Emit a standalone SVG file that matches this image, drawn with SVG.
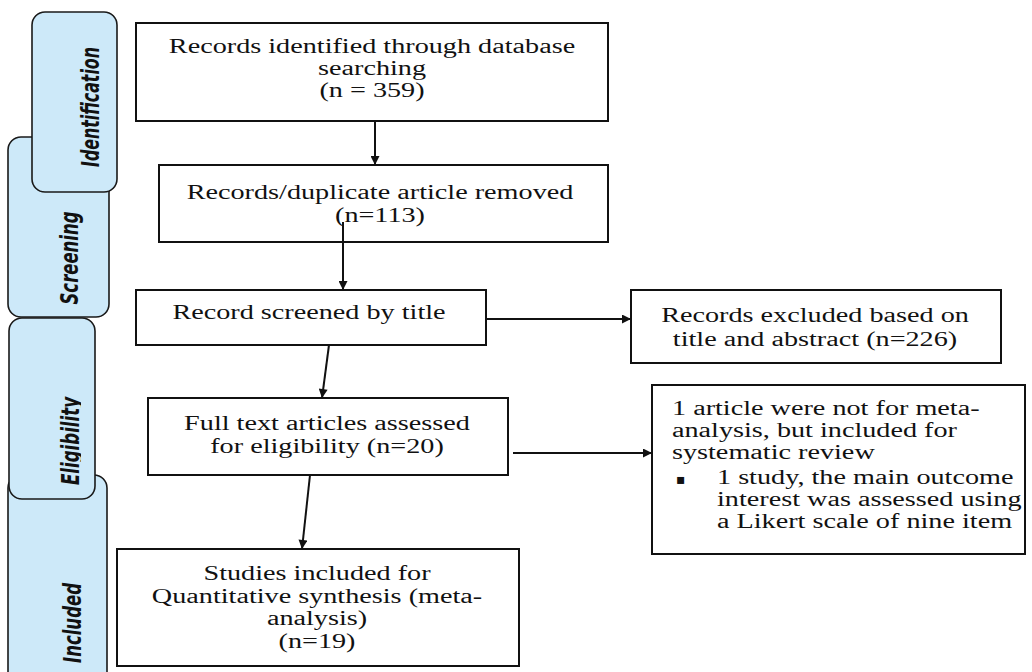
<svg xmlns="http://www.w3.org/2000/svg" width="1032" height="672" viewBox="0 0 1032 672">
<style>
.bg{fill:#ffffff}
.box{fill:#ffffff;stroke:#111111;stroke-width:2}
.tab{fill:#cde9f9;stroke:#1a1a1a;stroke-width:1.6}
.t{font-family:"Liberation Serif","Times New Roman",serif;font-size:20px;fill:#111111;text-anchor:middle}
.tl{font-family:"Liberation Serif","Times New Roman",serif;font-size:20px;fill:#111111;text-anchor:start}
.side{font-family:"Liberation Sans Narrow","DejaVu Sans Condensed","DejaVu Sans",sans-serif;font-size:25px;font-weight:bold;font-style:italic;fill:#111111;text-anchor:middle}
.c{stroke:#111111;stroke-width:2;fill:none}
</style>
<defs>
<marker id="ah" viewBox="0 0 10 10" refX="10" refY="5" markerWidth="10" markerHeight="9" markerUnits="userSpaceOnUse" orient="auto">
<path d="M0,0 L10,5 L0,10 z" fill="#111111"/>
</marker>
<clipPath id="eclip"><rect x="0" y="380" width="81" height="120"/></clipPath>
</defs>
<rect class="bg" x="0" y="0" width="1032" height="672"/>

<g id="tab-screening">
<rect class="tab" x="8" y="137" width="101" height="180" rx="13"/>
<text class="side" transform="translate(78,258) rotate(-90)" x="0" y="0" textLength="93" lengthAdjust="spacingAndGlyphs">Screening</text>
</g>
<g id="tab-identification">
<rect class="tab" x="32" y="12" width="85" height="180" rx="13"/>
<text class="side" transform="translate(99,107) rotate(-90)" x="0" y="0" textLength="120" lengthAdjust="spacingAndGlyphs">Identification</text>
</g>
<g id="tab-included">
<rect class="tab" x="8" y="475" width="99" height="215" rx="13"/>
<text class="side" transform="translate(81,623) rotate(-90)" x="0" y="0" textLength="80" lengthAdjust="spacingAndGlyphs">Included</text>
</g>
<g id="tab-eligibility">
<rect class="tab" x="9" y="318" width="86" height="181" rx="13"/>
<g clip-path="url(#eclip)">
<text class="side" transform="translate(79,441) rotate(-90)" x="0" y="0" textLength="88" lengthAdjust="spacingAndGlyphs">Eligibility</text>
</g>
</g>

<g id="n-identified">
<rect class="box" x="136" y="23" width="472" height="98"/>
<text class="t" transform="translate(372,0) scale(1.41,1)" x="0" y="53">Records identified through database</text>
<text class="t" transform="translate(372,0) scale(1.41,1)" x="0" y="75">searching</text>
<text class="t" transform="translate(372,0) scale(1.41,1)" x="0" y="97">(n = 359)</text>
</g>

<g id="n-duplicates">
<rect class="box" x="159" y="165" width="449" height="77"/>
<text class="t" transform="translate(380,0) scale(1.41,1)" x="0" y="199">Records/duplicate article removed</text>
<text class="t" transform="translate(380,0) scale(1.41,1)" x="0" y="222">(n=113)</text>
</g>

<g id="n-screened">
<rect class="box" x="136" y="290" width="350" height="55"/>
<text class="t" transform="translate(309,0) scale(1.41,1)" x="0" y="319">Record screened by title</text>
</g>

<g id="n-excluded">
<rect class="box" x="631" y="290" width="370" height="73"/>
<text class="t" transform="translate(815,0) scale(1.41,1)" x="0" y="322">Records excluded based on</text>
<text class="t" transform="translate(815,0) scale(1.41,1)" x="0" y="346">title and abstract (n=226)</text>
</g>

<g id="n-fulltext">
<rect class="box" x="148" y="398" width="360" height="77"/>
<text class="t" transform="translate(327,0) scale(1.41,1)" x="0" y="430">Full text articles assessed</text>
<text class="t" transform="translate(327,0) scale(1.41,1)" x="0" y="453">for eligibility (n=20)</text>
</g>

<g id="n-notmeta">
<rect class="box" x="652" y="385" width="373" height="169"/>
<text class="tl" transform="translate(672,0) scale(1.41,1)" x="0" y="415">1 article were not for meta-</text>
<text class="tl" transform="translate(672,0) scale(1.41,1)" x="0" y="437">analysis, but included for</text>
<text class="tl" transform="translate(672,0) scale(1.41,1)" x="0" y="459">systematic review</text>
<text class="tl" x="676" y="484" style="font-family:'DejaVu Sans',sans-serif;font-size:14px">▪</text>
<text class="tl" transform="translate(717,0) scale(1.41,1)" x="0" y="484">1 study, the main outcome</text>
<text class="tl" transform="translate(717,0) scale(1.41,1)" x="0" y="506">interest was assessed using</text>
<text class="tl" transform="translate(717,0) scale(1.41,1)" x="0" y="528">a Likert scale of nine item</text>
</g>

<g id="n-included">
<rect class="box" x="117" y="549" width="402" height="117"/>
<text class="t" transform="translate(317,0) scale(1.41,1)" x="0" y="580">Studies included for</text>
<text class="t" transform="translate(317,0) scale(1.41,1)" x="0" y="603">Quantitative synthesis (meta-</text>
<text class="t" transform="translate(317,0) scale(1.41,1)" x="0" y="625">analysis)</text>
<text class="t" transform="translate(317,0) scale(1.41,1)" x="0" y="648">(n=19)</text>
</g>

<g id="connectors">
<line class="c" x1="375" y1="121" x2="375" y2="165" marker-end="url(#ah)"/>
<line class="c" x1="343" y1="222" x2="343" y2="290" marker-end="url(#ah)"/>
<line class="c" x1="329" y1="345" x2="322" y2="398" marker-end="url(#ah)"/>
<line class="c" x1="487" y1="319" x2="631" y2="319" marker-end="url(#ah)"/>
<line class="c" x1="513" y1="453" x2="652" y2="453" marker-end="url(#ah)"/>
<line class="c" x1="310" y1="475" x2="302" y2="549" marker-end="url(#ah)"/>
</g>
</svg>
